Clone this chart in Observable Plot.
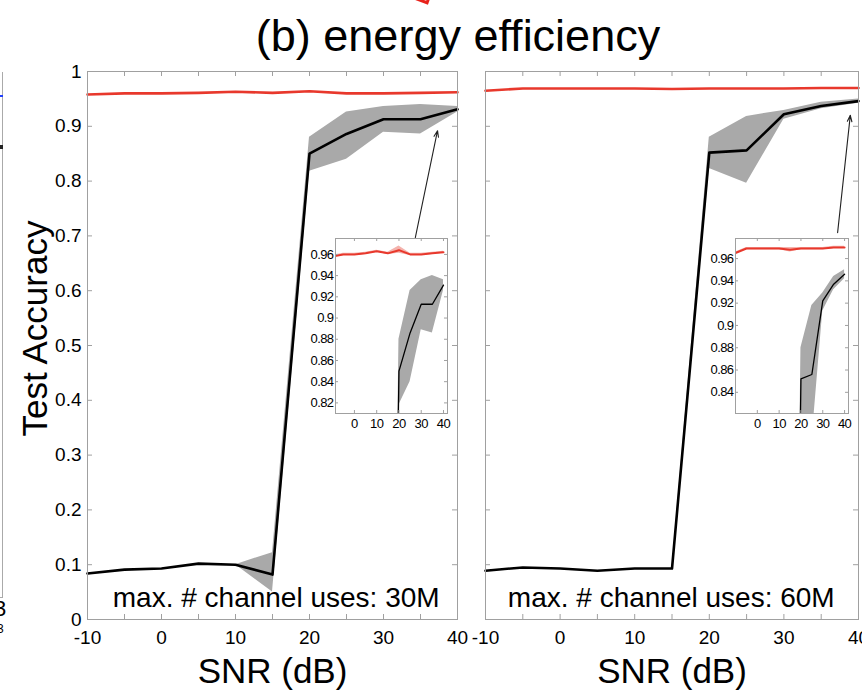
<!DOCTYPE html>
<html>
<head>
<meta charset="utf-8">
<script src="https://cdn.jsdelivr.net/npm/d3@7"></script>
<script src="https://cdn.jsdelivr.net/npm/@observablehq/plot@0.6"></script>
<style>
  html, body { margin: 0; padding: 0; background: #fff; }
  #root { position: relative; width: 862px; height: 699px; overflow: hidden; background: #fff;
          font-family: "Liberation Sans", Arial, Helvetica, sans-serif; color: #000; }
  .abs { position: absolute; }
  #title { left: 0; width: 916px; top: 10px; text-align: center; font-size: 45px; line-height: 52px; white-space: nowrap; }
  #marker { left: 396px; top: -41px; width: 40px; height: 40px; box-sizing: border-box; border: 3px solid #e8221b; transform: rotate(20deg); }
  #nb { left: -20px; top: 72px; width: 22px; height: 525px; border-right: 1px solid #aaa; border-bottom: 1px solid #aaa; }
  #nbBlue { left: 0px; top: 95px; width: 3px; height: 2px; background: #1f3fff; }
  #nbBlack { left: 0px; top: 145px; width: 3px; height: 4px; background: #222; }
  #nb3 { left: -6px; top: 596px; font-size: 22px; }
  #nb3s { left: -3px; top: 622px; font-size: 12px; }
  svg { overflow: visible; }
</style>
</head>
<body>
<div id="root">
  <div id="marker" class="abs"></div>
  <div id="title" class="abs">(b) energy efficiency</div>
  <div id="nb" class="abs"></div>
  <div id="nbBlue" class="abs"></div>
  <div id="nbBlack" class="abs"></div>
  <div id="nb3" class="abs">3</div>
  <div id="nb3s" class="abs">3</div>
  <div id="p30" class="abs" style="left:0;top:0"></div>
  <div id="p60" class="abs" style="left:470px;top:0"></div>
  <div id="i30" class="abs" style="left:299px;top:232px"></div>
  <div id="i60" class="abs" style="left:699px;top:232px"></div>
</div>
<script>
// ---------- data ----------
const snr = [-10, -5, 0, 5, 10, 15, 20, 25, 30, 35, 40];

// max. # channel uses: 30M
const red30    = [0.958, 0.960, 0.960, 0.961, 0.963, 0.961, 0.964, 0.960, 0.960, 0.961, 0.962];
const redLo30  = [0.957, 0.959, 0.959, 0.960, 0.962, 0.960, 0.961, 0.959, 0.959, 0.960, 0.961];
const redHi30  = [0.959, 0.961, 0.961, 0.962, 0.964, 0.962, 0.968, 0.961, 0.961, 0.962, 0.963];
const black30  = [0.084, 0.091, 0.093, 0.102, 0.100, 0.082, 0.850, 0.886, 0.913, 0.913, 0.931];
const lo30     = [0.084, 0.091, 0.093, 0.102, 0.100, 0.050, 0.818, 0.840, 0.889, 0.886, 0.926];
const hi30     = [0.084, 0.091, 0.093, 0.102, 0.100, 0.122, 0.880, 0.926, 0.936, 0.940, 0.936];

// max. # channel uses: 60M
const red60    = [0.965, 0.969, 0.969, 0.969, 0.969, 0.968, 0.969, 0.969, 0.969, 0.970, 0.970];
const redLo60  = [0.964, 0.968, 0.968, 0.968, 0.968, 0.966, 0.968, 0.968, 0.968, 0.969, 0.969];
const redHi60  = [0.966, 0.970, 0.970, 0.970, 0.970, 0.970, 0.970, 0.970, 0.970, 0.971, 0.971];
const black60  = [0.089, 0.095, 0.093, 0.089, 0.093, 0.093, 0.852, 0.856, 0.922, 0.937, 0.946];
const lo60     = [0.089, 0.095, 0.093, 0.089, 0.093, 0.093, 0.823, 0.796, 0.913, 0.932, 0.942];
const hi60     = [0.089, 0.095, 0.093, 0.089, 0.093, 0.093, 0.880, 0.918, 0.929, 0.944, 0.950];

// ticks and labels
const xMinorTicks = [-10, -5, 0, 5, 10, 15, 20, 25, 30, 35, 40];
const xLabels = [-10, 0, 10, 20, 30, 40];
const yTicks = [0, 0.1, 0.2, 0.3, 0.4, 0.5, 0.6, 0.7, 0.8, 0.9, 1];
const insetXTicks = [0, 10, 20, 30, 40];
const insetYTicks30 = [0.82, 0.84, 0.86, 0.88, 0.9, 0.92, 0.94, 0.96];
const insetYTicks60 = [0.84, 0.86, 0.88, 0.9, 0.92, 0.94, 0.96];

// annotations
const note30 = {x: 15.5, y: 0.04, text: "max. # channel uses: 30M"};
const note60 = {x: 14.9, y: 0.04, text: "max. # channel uses: 60M"};
const arrow30 = {x1: 34.3, y1: 0.697, x2: 37.3, y2: 0.892};
const arrow60 = {x1: 37.2, y1: 0.706, x2: 38.9, y2: 0.920};

// ---------- style ----------
const FONT = "'Liberation Sans', Arial, Helvetica, sans-serif";
const RED = "#e8382c";
const PINK = "#f4b3ad";
const GRAY = "#a9a9a9";
const FRAME = "#a0a0a0";

function rowsOf(red, redLo, redHi, black, lo, hi) {
  return snr.map((x, i) => ({x, red: red[i], redLo: redLo[i], redHi: redHi[i], black: black[i], lo: lo[i], hi: hi[i]}));
}

function mainPanel({rows, note, arrow, width, marginLeft, marginRight, showY}) {
  const marginTop = 71, marginBottom = 80, height = 699;
  const innerH = height - marginTop - marginBottom;
  const innerW = width - marginLeft - marginRight;
  const tk = 5;
  const marks = [
    Plot.areaY(rows, {x: "x", y1: "lo", y2: "hi", fill: GRAY}),
    Plot.lineY(rows, {x: "x", y: "red", stroke: RED, strokeWidth: 2.6}),
    Plot.lineY(rows, {x: "x", y: "black", stroke: "#000", strokeWidth: 2.6}),
    Plot.arrow([arrow], {x1: "x1", y1: "y1", x2: "x2", y2: "y2", stroke: "#222", strokeWidth: 1.1, headLength: 9, headAngle: 40}),
    Plot.frame({stroke: FRAME, strokeWidth: 1}),
    Plot.tickX(xMinorTicks, {x: d => d, insetTop: innerH - tk, stroke: FRAME}),
    Plot.tickX(xMinorTicks, {x: d => d, insetBottom: innerH - tk, stroke: FRAME}),
    Plot.tickY(yTicks, {y: d => d, insetRight: innerW - tk, stroke: FRAME}),
    Plot.tickY(yTicks, {y: d => d, insetLeft: innerW - tk, stroke: FRAME}),
    Plot.text([note], {x: "x", y: "y", text: "text", fontSize: 28, fill: "#000", ariaLabel: "note"}),
    Plot.axisX({ticks: xLabels, tickSize: 0, tickPadding: 11, fontSize: 19, label: null, tickFormat: d => String(d)}),
    Plot.text(["SNR (dB)"], {frameAnchor: "bottom", dy: 63, fontSize: 35, fill: "#000"})
  ];
  if (showY) {
    marks.push(Plot.axisY({ticks: yTicks, tickSize: 0, tickPadding: 6, fontSize: 19, label: null, tickFormat: d => String(d)}));
    marks.push(Plot.text(["Test Accuracy"], {frameAnchor: "left", textAnchor: "middle", rotate: -90, dx: -52, dy: -17, fontSize: 35, fill: "#000"}));
  } else {
    marks.push(Plot.axisY({ticks: [], label: null}));
  }
  const svg = Plot.plot({
    width, height, marginTop, marginBottom, marginLeft, marginRight,
    style: {fontFamily: FONT, background: "transparent", color: "#000", overflow: "visible"},
    x: {domain: [-10, 40]},
    y: {domain: [0, 1]},
    marks
  });
  d3.select(svg).selectAll("g[aria-label='note'] text").style("letter-spacing", "-0.35px");
  return svg;
}

function insetPanel({rows, xDomain, yDomain, yTickVals, frameW}) {
  const marginLeft = 36, marginRight = 2, marginTop = 6, marginBottom = 24, frameH = 175;
  const tk = 3;
  const svg = Plot.plot({
    width: frameW + marginLeft + marginRight, height: frameH + marginTop + marginBottom,
    marginLeft, marginRight, marginTop, marginBottom,
    style: {fontFamily: FONT, background: "transparent", color: "#000", overflow: "visible"},
    x: {domain: xDomain},
    y: {domain: yDomain},
    marks: [
      Plot.frame({fill: "#fff"}),
      Plot.areaY(rows, {x: "x", y1: "lo", y2: "hi", fill: GRAY, clip: true}),
      Plot.areaY(rows, {x: "x", y1: "redLo", y2: "redHi", fill: PINK, clip: true}),
      Plot.lineY(rows, {x: "x", y: "red", stroke: RED, strokeWidth: 2, clip: true}),
      Plot.lineY(rows, {x: "x", y: "black", stroke: "#000", strokeWidth: 1.3, clip: true}),
      Plot.frame({stroke: FRAME, strokeWidth: 1}),
      Plot.tickX(insetXTicks, {x: d => d, insetBottom: frameH - tk, stroke: FRAME}),
      Plot.tickX(insetXTicks, {x: d => d, insetTop: frameH - tk, stroke: FRAME}),
      Plot.tickY(yTickVals, {y: d => d, insetRight: frameW - tk, stroke: FRAME}),
      Plot.tickY(yTickVals, {y: d => d, insetLeft: frameW - tk, stroke: FRAME}),
      Plot.axisX({ticks: insetXTicks, tickSize: 0, tickPadding: 5, fontSize: 13, label: null, tickFormat: d => String(d)}),
      Plot.axisY({ticks: yTickVals, tickSize: 0, tickPadding: 2, fontSize: 13, label: null, tickFormat: d => String(d)})
    ]
  });
  d3.select(svg).selectAll("text").style("letter-spacing", "-0.6px");
  return svg;
}

const rows30 = rowsOf(red30, redLo30, redHi30, black30, lo30, hi30);
const rows60 = rowsOf(red60, redLo60, redHi60, black60, lo60, hi60);

document.getElementById("p30").append(mainPanel({rows: rows30, note: note30, arrow: arrow30, width: 470, marginLeft: 87, marginRight: 13, showY: true}));
document.getElementById("p60").append(mainPanel({rows: rows60, note: note60, arrow: arrow60, width: 392, marginLeft: 15, marginRight: 4, showY: false}));
document.getElementById("i30").append(insetPanel({rows: rows30, xDomain: [-8.5, 41.8], yDomain: [0.81, 0.975], yTickVals: insetYTicks30, frameW: 112}));
document.getElementById("i60").append(insetPanel({rows: rows60, xDomain: [-10, 41.8], yDomain: [0.821, 0.978], yTickVals: insetYTicks60, frameW: 113}));
</script>
</body>
</html>
